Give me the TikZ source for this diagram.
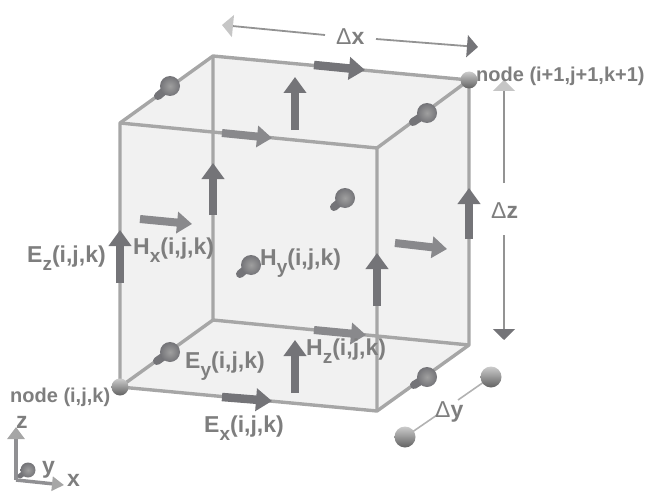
\documentclass[tikz,border=0pt]{standalone}
\usepackage{fontspec}
\setmainfont{Liberation Sans}
\usetikzlibrary{arrows.meta}
\definecolor{edgec}{HTML}{A6A6A6}
\definecolor{arrc}{HTML}{747478}
\definecolor{txtc}{HTML}{7E7E7E}
\definecolor{facec}{HTML}{F1F1F1}
\tikzset{
  edge/.style={draw=edgec,line width=3.4pt,line join=round},
  fatarrow/.style={draw=arrc,line width=8.5pt,-{Triangle[length=16pt,width=22pt]}},
  Harrow/.style={draw=arrc!85,line width=8pt,-{Triangle[length=15pt,width=21pt]}},
  ballhead/.style={circle,inner sep=0pt,minimum size=#1,inner color=gray!75,outer color=arrc},
  nodeball/.style={circle,inner sep=0pt,minimum size=#1,top color=black!20,bottom color=black!62},
  lab/.style={anchor=base west,inner sep=0pt,text=txtc,font=\fontsize{23}{23}\selectfont\bfseries},
  axislab/.style={anchor=base west,inner sep=0pt,text=txtc,font=\fontsize{23}{23}\selectfont\bfseries},
  small/.style={anchor=base west,inner sep=0pt,text=txtc,font=\fontsize{20}{20}\selectfont\bfseries},
  dim/.style={draw=gray!85,line width=1.8pt},
  dimlight/.style={dim,-{Triangle[length=11pt,width=22pt,fill=gray!45,color=gray!45]}},
  dimdark/.style={dim,-{Triangle[length=11pt,width=22pt,fill=arrc,color=arrc]}},
}
\newcommand{\yarrow}[3]{%
  \draw[draw=arrc,line width=8pt,line cap=round] (#1) -- (#2);
  \node[ballhead=20pt] (#3) at (#2) {};
}
\newcommand{\lowsub}[1]{\raisebox{-0.36em}{\fontsize{19}{19}\selectfont #1}}
\begin{document}
\begin{tikzpicture}[x=1pt,y=-1pt]
\useasboundingbox (0,0) rectangle (647,492);
\coordinate (A) at (120,387);
\coordinate (B) at (377,411);
\coordinate (C) at (120,123);
\coordinate (D) at (377,148);
\coordinate (E) at (213,56);
\coordinate (F) at (469,80);
\coordinate (G) at (213,320);
\coordinate (H) at (469,345);
% faces
\fill[facec] (A) -- (C) -- (E) -- (F) -- (H) -- (B) -- cycle;
% back edges
\draw[edge] (E) -- (G) (G) -- (H) (G) -- (A);
% up arrows at back
\draw[fatarrow] (213,215) -- (213,163);
\draw[fatarrow] (295,130) -- (295,77);
\draw[fatarrow] (295,393) -- (295,340);
\draw[Harrow] (314,330) -- (366,335);
% front and remaining edges
\draw[edge] (A) -- (B) -- (H) -- (F) -- (E) -- (C) -- cycle;
\draw[edge] (C) -- (D) -- (B) (D) -- (F);
% y-directed arrows
\yarrow{157,361}{170,352}{ey1}
\yarrow{158,96}{170,86}{ey2}
\yarrow{413,122}{427,113}{ey3}
\yarrow{414,385}{427,377}{ey4}
\yarrow{334,207}{345,198}{hy1}
\yarrow{240,274}{251,265}{hy2}
% arrows on edges
\draw[fatarrow] (120,283) -- (120,230);
\draw[fatarrow] (377,306) -- (377,253);
\draw[fatarrow] (469,239) -- (469,188);
\draw[fatarrow] (222,397) -- (272,401);
\draw[fatarrow] (314,65) -- (365,70);
\draw[Harrow] (222,133) -- (272,138);
\draw[Harrow] (140,219) -- (192,224);
\draw[Harrow] (395,243) -- (447,249);
% corner balls
\node[nodeball=17pt] (n0) at (A) {};
\node[nodeball=17pt] (n1) at (F) {};
% dimension arrows
\coordinate (dxl) at (222,25);
\coordinate (dxa) at (325,35);
\coordinate (dxb) at (376,39);
\coordinate (dxr) at (478,47);
\draw[dimlight] (dxa) -- (dxl);
\draw[dimdark] (dxb) -- (dxr);
\coordinate (dzt) at (504,80);
\coordinate (dza) at (504,183);
\coordinate (dzb) at (504,235);
\coordinate (dzd) at (504,340);
\draw[dimlight] (dza) -- (dzt);
\draw[dimdark] (dzb) -- (dzd);
% delta y
\draw[draw=gray!60,line width=1.6pt] (405,437) -- (437,415);
\draw[draw=gray!60,line width=1.6pt] (458,400) -- (491,377);
\node[nodeball=21pt] (dy1) at (405,437) {};
\node[nodeball=21pt] (dy2) at (491,377) {};
% axes
\coordinate (o) at (16,480);
\coordinate (zt) at (16,427);
\coordinate (xt) at (64,485);
\draw[draw=arrc!80,line width=3.5pt,-{Triangle[length=12pt,width=17pt,color=gray!70,fill=gray!70]}] (o) -- (zt);
\draw[draw=arrc!80,line width=3.5pt,-{Triangle[length=12pt,width=14pt,color=gray!70,fill=gray!70]}] (o) -- (xt);
\draw[draw=arrc,line width=5pt,line cap=round] (20,476) -- (28,470);
\node[ballhead=15pt] (ay) at (28,470) {};
% labels
\node[lab] (tEz) at (27,262) {E\lowsub{z}(i,j,k)};
\node[lab] (tHx) at (133,254) {H\lowsub{x}(i,j,k)};
\node[lab] (tHy) at (260,265) {H\lowsub{y}(i,j,k)};
\node[lab] (tEy) at (185,368) {E\lowsub{y}(i,j,k)};
\node[lab] (tEx) at (204,432) {E\lowsub{x}(i,j,k)};
\node[lab] (tHz) at (306,355) {H\lowsub{z}(i,j,k)};
\node[small] (tn0) at (10,402) {node (i,j,k)};
\node[small] (tn1) at (476,82) {node (i+1,j+1,k+1)};
\node[lab] (tdx) at (336,45) {{\mdseries Δ}x};
\node[lab] (tdz) at (491,218) {{\mdseries Δ}z};
\node[lab] (tdy) at (435,417) {{\mdseries Δ}y};
\node[axislab] (tz) at (16,428) {z};
\node[axislab] (ty) at (42,473) {y};
\node[axislab] (tx) at (67,486) {x};
\end{tikzpicture}
\end{document}
